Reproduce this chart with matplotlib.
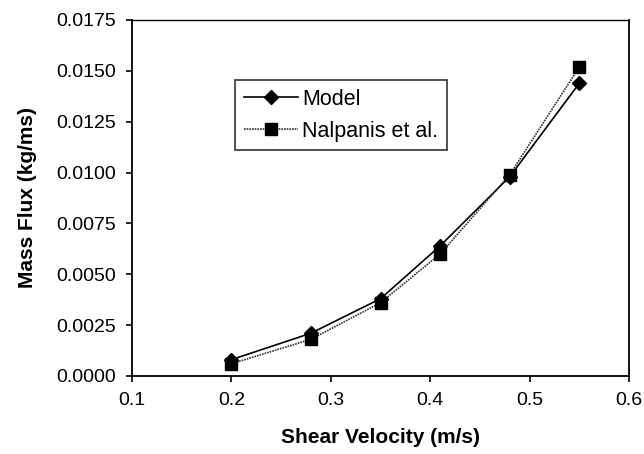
import matplotlib
matplotlib.use("Agg")
import matplotlib.pyplot as plt

# Data
shear_velocity = [0.20, 0.28, 0.35, 0.41, 0.48, 0.55]
model_flux = [0.0008, 0.0021, 0.0038, 0.0064, 0.0098, 0.0144]
nalpanis_flux = [0.0006, 0.0018, 0.0036, 0.0060, 0.0099, 0.0152]

x_ticks = [0.1, 0.2, 0.3, 0.4, 0.5, 0.6]
y_ticks = [0.0, 0.0025, 0.0050, 0.0075, 0.0100, 0.0125, 0.0150, 0.0175]

plt.rcParams['font.family'] = ['Liberation Sans', 'DejaVu Sans']

fig = plt.figure(figsize=(6.44, 4.54), dpi=100)
ax = fig.add_axes([0.205, 0.172, 0.772, 0.784])

ax.plot(shear_velocity, model_flux, color='black', linewidth=1.2,
        marker='D', markersize=7.5, label='Model')
ax.plot(shear_velocity, nalpanis_flux, color='#333333', linewidth=1.2,
        linestyle=(0, (1, 0.6)), marker='s', markersize=8.5,
        markerfacecolor='black', markeredgecolor='black', label='Nalpanis et al.')

ax.set_xlim(0.1, 0.6)
ax.set_ylim(0.0, 0.0175)
ax.set_xticks(x_ticks)
ax.set_xticklabels([f"{v:.1f}" for v in x_ticks])
ax.set_yticks(y_ticks)
ax.set_yticklabels([f"{v:.4f}" for v in y_ticks])
ax.tick_params(direction='out', length=4.5, width=1.2, labelsize=14, pad=7)

for side in ['left', 'bottom', 'right']:
    ax.spines[side].set_linewidth(1.3)
ax.spines['top'].set_linewidth(1.0)

ax.set_xlabel("Shear Velocity (m/s)", fontsize=15, fontweight='bold', labelpad=14)
ax.set_ylabel("Mass Flux (kg/ms)", fontsize=15, fontweight='bold', labelpad=14)

leg = ax.legend(loc='upper left', bbox_to_anchor=(0.208, 0.831), fontsize=15.5,
                frameon=True, fancybox=False, edgecolor='black',
                handlelength=2.5, borderpad=0.4, labelspacing=0.5, handletextpad=0.2,
                borderaxespad=0.0)
leg.get_frame().set_linewidth(1.2)

fig.savefig("out.png", dpi=100)
